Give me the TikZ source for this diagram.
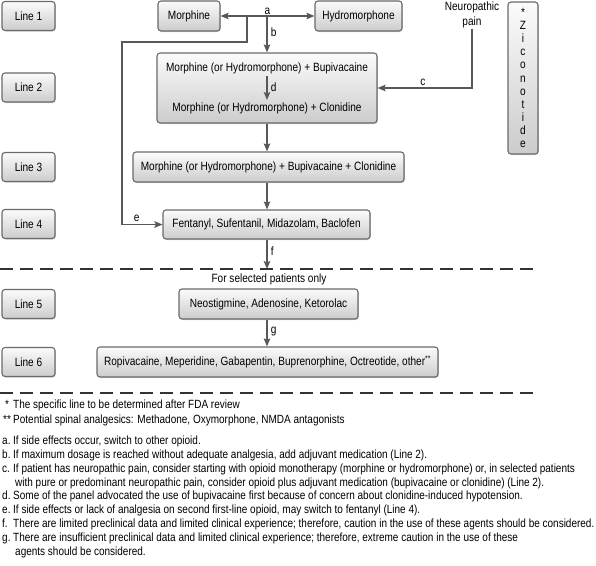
\documentclass[tikz,border=0pt]{standalone}
\usepackage{fontspec}
\setmainfont{Liberation Sans}[FakeStretch=0.84]
\usetikzlibrary{arrows.meta,shadows,calc}
\definecolor{arr}{HTML}{585858}
\definecolor{bord}{HTML}{6A6A6A}
\definecolor{dashc}{HTML}{333333}
\begin{document}
\begin{tikzpicture}[x=1pt,y=-1pt,
  box/.style={draw=bord, line width=1.1pt, rounded corners=3pt,
    top color=gray!3, bottom color=gray!40, inner sep=0pt,
    font=\fontsize{12}{14}\selectfont,
    drop shadow={shadow xshift=0.8pt, shadow yshift=-1pt, opacity=0.35}},
  lbl/.style={font=\fontsize{12}{14}\selectfont, inner sep=1pt},
  conn/.style={draw=arr, line width=1.6pt},
  arrow/.style={conn, -{Stealth[length=8pt,width=6.5pt,inset=1.5pt]}},
  darrow/.style={conn, {Stealth[length=8pt,width=6.5pt,inset=1.5pt]}-{Stealth[length=8pt,width=6.5pt,inset=1.5pt]}},
  sep/.style={draw=dashc, line width=1.5pt, dash pattern=on 13pt off 7pt},
  fn/.style={font=\fontsize{11.9}{13.8}\selectfont, anchor=west, inner sep=0pt, text height=8pt, text depth=2.5pt}
]
\useasboundingbox (0,0) rectangle (596,565);

% line labels
\node[box, minimum width=53pt, minimum height=29pt] (L1) at (28.5,16) {Line 1};
\node[box, minimum width=53pt, minimum height=29pt] (L2) at (28.5,87.5) {Line 2};
\node[box, minimum width=53pt, minimum height=29pt] (L3) at (28.5,167) {Line 3};
\node[box, minimum width=53pt, minimum height=29pt] (L4) at (28.5,224) {Line 4};
\node[box, minimum width=53pt, minimum height=29pt] (L5) at (28.5,304) {Line 5};
\node[box, minimum width=53pt, minimum height=29pt] (L6) at (28.5,362) {Line 6};

% main boxes
\node[box, minimum width=62pt, minimum height=30pt] (Mor) at (189,16) {Morphine};
\node[box, minimum width=87pt, minimum height=30pt] (Hyd) at (358.5,16) {Hydromorphone};
\node[box, minimum width=220pt, minimum height=70pt] (Big) at (267,88) {};
\node[lbl] (B1) at (267,68) {Morphine (or Hydromorphone) + Bupivacaine};
\node[lbl] (B2) at (267,108) {Morphine (or Hydromorphone) + Clonidine};
\node[box, minimum width=30pt, minimum height=152pt, align=center,
      font=\fontsize{12}{13.1}\selectfont] (Zic) at (523,78) {*\\Z\\i\\c\\o\\n\\o\\t\\i\\d\\e};
\node[lbl, align=center, font=\fontsize{12}{15}\selectfont] (NP) at (472,14.5) {Neuropathic\\pain};
\node[box, minimum width=271pt, minimum height=30pt] (M3) at (268.5,167) {Morphine (or Hydromorphone) + Bupivacaine + Clonidine};
\node[box, minimum width=207pt, minimum height=29pt] (Fen) at (266.5,224.5) {Fentanyl, Sufentanil, Midazolam, Baclofen};
\node[lbl] (sel) at (269,279) {For selected patients only};
\node[box, minimum width=179pt, minimum height=30pt] (Neo) at (268.5,304) {Neostigmine, Adenosine, Ketorolac};
\node[box, minimum width=341pt, minimum height=30pt] (Rop) at (267.5,362) {Ropivacaine, Meperidine, Gabapentin, Buprenorphine, Octreotide, other\textsuperscript{**}};

% connectors
\draw[darrow] (Mor) -- (Hyd) node[lbl, pos=0.5, above=0pt] (la) {a};
\coordinate (ja) at (267,16);
\draw[arrow] (ja) -- (ja |- Big.north) node[lbl, pos=0.45, right=2pt] (lb) {b};
\coordinate (d1) at (267,76);
\coordinate (d2) at (267,100);
\draw[arrow] (d1) -- (d2) node[lbl, pos=0.45, right=2pt] (ld) {d};
\draw[arrow] (NP.south) |- (Big.east) node[lbl, pos=0.76, above=1pt] (lc) {c};
\coordinate (je) at (247,16);
\coordinate (je1) at (247,42);
\coordinate (je2) at (122,42);
\draw[arrow] (je) -- (je1) -- (je2) |- (Fen.west) node[lbl, pos=0.68, above=1pt] (le) {e};
\draw[arrow] (Big.south) -- (Big.south |- M3.north);
\draw[arrow] (Big.south |- M3.south) -- (Big.south |- Fen.north);
\coordinate (jf) at (267,269);
\draw[arrow] (Big.south |- Fen.south) -- (jf) node[lbl, pos=0.4, right=2pt] (lf) {f};
\draw[arrow] (jf |- Neo.south) -- (jf |- Rop.north) node[lbl, pos=0.45, right=2pt] (lg) {g};

% separators
\draw[sep] (0,269) -- (539,269);
\draw[sep] (0,393) -- (539,393);

% footnotes
\node[fn] (s1) at (5,406) {*};
\node[fn] (t1) at (13,406) {The specific line to be determined after FDA review};
\node[fn] (s2) at (3,421) {**};
\node[fn] (t2) at (13,421) {Potential spinal analgesics: Methadone, Oxymorphone, NMDA antagonists};
\node[fn] (na) at (2,442) {a.};
\node[fn] (ta) at (13,442) {If side effects occur, switch to other opioid.};
\node[fn] (nb) at (2,455.8) {b.};
\node[fn] (tb) at (13,455.8) {If maximum dosage is reached without adequate analgesia, add adjuvant medication (Line 2).};
\node[fn] (nc) at (2,469.6) {c.};
\node[fn] (tc) at (13,469.6) {If patient has neuropathic pain, consider starting with opioid monotherapy (morphine or hydromorphone) or, in selected patients};
\node[fn] (tc2) at (15,483.4) {with pure or predominant neuropathic pain, consider opioid plus adjuvant medication (bupivacaine or clonidine) (Line 2).};
\node[fn] (nd) at (2,497.2) {d.};
\node[fn] (td) at (13,497.2) {Some of the panel advocated the use of bupivacaine first because of concern about clonidine-induced hypotension.};
\node[fn] (ne) at (2,511) {e.};
\node[fn] (te) at (13,511) {If side effects or lack of analgesia on second first-line opioid, may switch to fentanyl (Line 4).};
\node[fn] (nf) at (2,524.8) {f.};
\node[fn] (tf) at (13,524.8) {There are limited preclinical data and limited clinical experience; therefore, caution in the use of these agents should be considered.};
\node[fn] (ng) at (2,538.6) {g.};
\node[fn] (tg) at (13,538.6) {There are insufficient preclinical data and limited clinical experience; therefore, extreme caution in the use of these};
\node[fn] (tg2) at (15,552.4) {agents should be considered.};
\end{tikzpicture}
\end{document}
